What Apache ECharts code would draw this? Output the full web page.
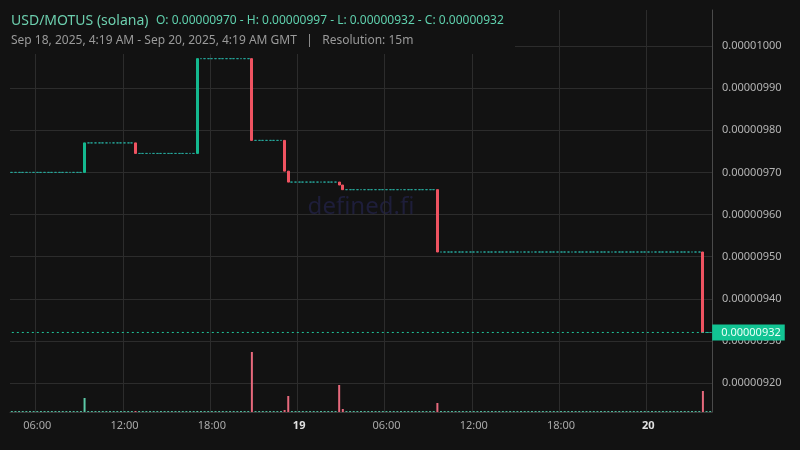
<!DOCTYPE html>
<html><head><meta charset="utf-8">
<script src="https://cdn.jsdelivr.net/npm/echarts@6/dist/echarts.min.js"></script>
<style>html,body{margin:0;padding:0;background:#121212}#c{width:800px;height:450px}</style>
</head><body><div id="c"></div>
<script>
// 15-minute candles, Sep 18 2025 04:15 GMT .. Sep 20 2025 04:15 GMT
const startTimeUTC = Date.UTC(2025, 8, 18, 4, 15);
const candleCount = 193;
const stepMinutes = 15;
const firstOpen = 0.00000970;
// candles where price moved (all other candles are flat at the previous close)
const moveIndex  = [20, 34, 51, 66, 75, 76, 90, 91, 117, 190];
const moveClose  = [0.00000977, 0.000009745, 0.00000997, 0.000009776, 0.000009703, 0.000009677, 0.00000967, 0.000009659, 0.000009511, 0.00000932];
const moveVolume = [140, 8, 8, 600, 20, 160, 270, 30, 90, 210];
const lastPrice = 0.00000932;
const titleText = 'USD/MOTUS (solana)';
const ohlcText = 'O: 0.00000970 - H: 0.00000997 - L: 0.00000932 - C: 0.00000932';
const subtitleText = 'Sep 18, 2025, 4:19 AM - Sep 20, 2025, 4:19 AM GMT   |   Resolution: 15m';

const pad = n => (n < 10 ? '0' : '') + n;
const categories = [];
for (let i = 0; i < candleCount; i++) {
  const d = new Date(startTimeUTC + i * stepMinutes * 60000);
  categories.push(d.getUTCFullYear() + '-' + pad(d.getUTCMonth() + 1) + '-' + pad(d.getUTCDate()) + ' ' + pad(d.getUTCHours()) + ':' + pad(d.getUTCMinutes()));
}
const UP = '#14b88f', DOWN = '#ef5361', FLAT = '#26a69a';
const candles = [], volumes = [];
let prev = firstOpen;
for (let i = 0; i < candleCount; i++) {
  const k = moveIndex.indexOf(i);
  if (k >= 0) {
    const c = moveClose[k];
    candles.push([prev, c, Math.min(prev, c), Math.max(prev, c)]);
    const up = c >= prev;
    volumes.push({ value: moveVolume[k], itemStyle: { color: up ? '#5cc9a7' : '#e6697c' } });
    prev = c;
  } else {
    candles.push({ value: [prev, prev, prev, prev], itemStyle: { borderColor: FLAT, color: FLAT } });
    volumes.push({ value: 0, itemStyle: { color: '#4fb89b' } });
  }
}
const isMajor = (idx, val) => { const hm = val.slice(11); return hm.slice(3) === '00' && (+hm.slice(0, 2)) % 6 === 0; };

const chart = echarts.init(document.getElementById('c'), null, { renderer: 'canvas' });
const gridBox = { left: 10, right: 88, top: 10, bottom: 38 };
chart.setOption({
  backgroundColor: '#121212',
  animation: false,
  grid: [Object.assign({}, gridBox), Object.assign({}, gridBox)],
  xAxis: [{
    type: 'category', data: categories, gridIndex: 0, boundaryGap: true,
    axisLine: { show: true, lineStyle: { color: '#3a3a3a' } },
    axisTick: { show: false },
    axisLabel: {
      interval: isMajor, margin: 8, fontFamily: 'Noto Sans', fontSize: 11, color: '#a9a9a9',
      formatter: v => { const hm = v.slice(11); return hm === '00:00' ? '{b|' + (+v.slice(8, 10)) + '}' : hm; },
      rich: { b: { fontWeight: 'bold', color: '#e0e0e0', fontSize: 11, fontFamily: 'Noto Sans' } }
    },
    splitLine: { show: true, interval: isMajor, lineStyle: { color: '#2c2c2c', width: 1 } }
  }, {
    type: 'category', data: categories, gridIndex: 1, boundaryGap: true, show: false
  }],
  yAxis: [{
    type: 'value', gridIndex: 0, position: 'right', scale: true,
    min: 0.0000091312, max: 0.0000100855, splitNumber: 10,
    axisLine: { show: true, lineStyle: { color: '#4a4a4a' } },
    axisTick: { show: false },
    axisLabel: { showMinLabel: false, showMaxLabel: false, margin: 10, fontFamily: 'Noto Sans', fontSize: 11, color: '#b4b4b4', formatter: v => v.toFixed(8) },
    splitLine: { show: true, showMinLine: false, showMaxLine: false, lineStyle: { color: '#2c2c2c', width: 1 } }
  }, {
    type: 'value', gridIndex: 1, min: 0, max: 4020, show: false, splitLine: { show: false }
  }],
  series: [{
    type: 'bar', xAxisIndex: 1, yAxisIndex: 1, data: volumes, barWidth: 2, barMinHeight: 1, z: 1
  }, {
    type: 'candlestick', xAxisIndex: 0, yAxisIndex: 0, data: candles, barWidth: 2.4, z: 3,
    itemStyle: { color: UP, color0: DOWN, borderColor: UP, borderColor0: DOWN, borderWidth: 1 }
  }, {
    type: 'line', xAxisIndex: 0, yAxisIndex: 0, z: 4, silent: true, symbol: 'none',
    data: [[categories[0], lastPrice], [categories[candleCount - 1], lastPrice]],
    lineStyle: { type: [2, 3], color: '#1fc79b', width: 1 },
    endLabel: {
      show: true, distance: 2, formatter: () => lastPrice.toFixed(8),
      backgroundColor: '#12c493', color: '#eafff7', padding: [3, 4, 2, 9], fontFamily: 'Noto Sans', fontSize: 11
    }
  }],
  graphic: [
    { type: 'rect', z: 100, shape: { x: 0, y: 0, width: 515, height: 54 }, style: { fill: '#121212' } },
    { type: 'text', z: 101, x: 11, y: 21, style: { text: titleText, fill: '#6ccfae', font: '14px "Noto Sans"', textVerticalAlign: 'middle' } },
    { type: 'text', z: 101, x: 156, y: 21, style: { text: ohlcText, fill: '#5fd0ad', font: '12px "Noto Sans"', textVerticalAlign: 'middle' } },
    { type: 'text', z: 101, x: 11, y: 41, style: { text: subtitleText, fill: '#9a9a9a', font: '12px "Noto Sans"', textVerticalAlign: 'middle' } },
    { type: 'text', z: 0, x: 361, y: 207, style: { text: 'defined.fi', fill: '#1e1e3a', font: '24px "Noto Sans"', textAlign: 'center', textVerticalAlign: 'middle' } }
  ]
});
</script></body></html>
